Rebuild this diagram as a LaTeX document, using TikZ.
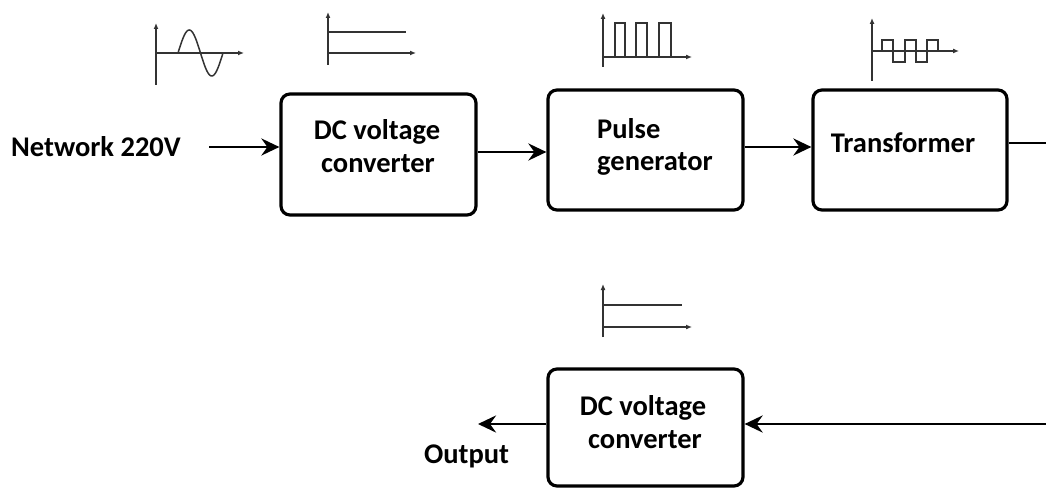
\documentclass[tikz,border=0pt]{standalone}
\usepackage{fontspec}
\setmainfont{Carlito}
\usetikzlibrary{arrows.meta}
\begin{document}
\begin{tikzpicture}[x=1pt,y=-1pt,
  blk/.style={draw=black, line width=3.2pt, rounded corners=9pt, inner sep=0pt},
  lbl/.style={font=\fontsize{28.5}{33}\selectfont\bfseries, inner sep=0pt, anchor=base, text=black},
  conn/.style={line width=2.9pt, -{Stealth[length=18pt,width=17pt,inset=6pt]}},
  ico/.style={line width=1.5pt, draw=black!80},
  icoarr/.style={ico, -{Latex[length=6pt,width=5pt]}}]
\useasboundingbox (0,0) rectangle (1046,489);
\fill[white] (0,0) rectangle (1046,489);

% blocks
\node[blk, minimum width=195pt, minimum height=121pt] (b1) at (378.5,154.5) {};
\node[blk, minimum width=195pt, minimum height=120pt] (b2) at (645.5,150) {};
\node[blk, minimum width=194pt, minimum height=120pt] (b3) at (910,150) {};
\node[blk, minimum width=195pt, minimum height=117pt] (b4) at (645.5,427.5) {};

% labels
\node[lbl] (net) at (96,157) {Network 220V};
\node[lbl] (b1a) at (377,140) {DC voltage};
\node[lbl] (b1b) at (378,173) {converter};
\node[lbl, anchor=base west] (b2a) at (597,138.5) {Pulse};
\node[lbl, anchor=base west] (b2b) at (597,171) {generator};
\node[lbl] (b3a) at (903,152.5) {Transformer};
\node[lbl] (b4a) at (643,415) {DC voltage};
\node[lbl] (b4b) at (645,448) {converter};
\node[lbl] (outl) at (466.5,463) {Output};

% connectors
\coordinate (nin) at (209,147);
\draw[conn] (nin) -- (nin -| b1.west);
\coordinate (a12) at (510,152);
\draw[conn] (a12 -| b1.east) -- (a12 -| b2.west);
\coordinate (a23) at (780,147);
\draw[conn] (a23 -| b2.east) -- (a23 -| b3.west);
\coordinate (tr) at (1070,143);
\coordinate (br) at (1070,424);
\draw[conn] (tr -| b3.east) -- (tr) -- (br) -- (br -| b4.east);
\coordinate (outp) at (478,424);
\draw[conn] (outp -| b4.west) -- (outp);

% waveform icons
% sine
\draw[icoarr] (156,85) -- (156,23);
\draw[icoarr] (156,53) -- (244,53);
\draw[ico] plot[domain=0:1, samples=60, smooth] ({178+45*\x},{53-23*sin(360*\x)});
% DC top
\draw[icoarr] (328,65) -- (328,12);
\draw[ico] (328,32) -- (406,32);
\draw[icoarr] (328,53) -- (416,53);
% pulses
\draw[icoarr] (603,67) -- (603,13);
\draw[icoarr] (603,57) -- (692,57);
\draw[ico] (615,57) -- (615,23) -- (625,23) -- (625,57)
           (636,57) -- (636,23) -- (647,23) -- (647,57)
           (659,57) -- (659,23) -- (671,23) -- (671,57);
% alternating square wave
\draw[icoarr] (872,81) -- (872,18);
\draw[icoarr] (872,51) -- (959,51);
\draw[ico] (882,51) -- (882,40) -- (893,40) -- (893,62) -- (905,62) -- (905,40)
           -- (916,40) -- (916,62) -- (927,62) -- (927,40) -- (938,40) -- (938,51);
% DC bottom
\draw[icoarr] (603,337) -- (603,284);
\draw[ico] (603,305) -- (682,305);
\draw[icoarr] (603,327) -- (692,327);
\end{tikzpicture}
\end{document}
